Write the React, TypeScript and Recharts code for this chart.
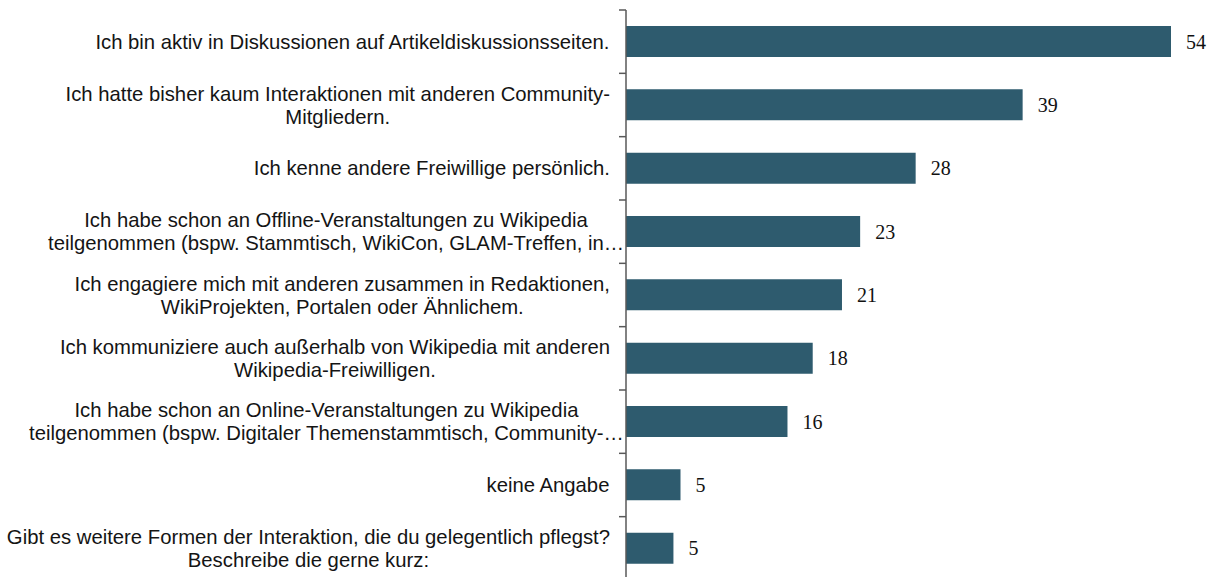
import React from "react";
import { BarChart, Bar, XAxis, YAxis, LabelList } from "recharts";

const categories: string[] = [
  "Ich bin aktiv in Diskussionen auf Artikeldiskussionsseiten.",
  "Ich hatte bisher kaum Interaktionen mit anderen Community-\nMitgliedern.",
  "Ich kenne andere Freiwillige persönlich.",
  "Ich habe schon an Offline-Veranstaltungen zu Wikipedia\nteilgenommen (bspw. Stammtisch, WikiCon, GLAM-Treffen, in…",
  "Ich engagiere mich mit anderen zusammen in Redaktionen,\nWikiProjekten, Portalen oder Ähnlichem.",
  "Ich kommuniziere auch außerhalb von Wikipedia mit anderen\nWikipedia-Freiwilligen.",
  "Ich habe schon an Online-Veranstaltungen zu Wikipedia\nteilgenommen (bspw. Digitaler Themenstammtisch, Community-…",
  "keine Angabe",
  "Gibt es weitere Formen der Interaktion, die du gelegentlich pflegst?\nBeschreibe die gerne kurz:",
];

const values: number[] = [54, 39.3, 28.7, 23.2, 21.4, 18.5, 16.0, 5.4, 4.7];
const valueLabels: string[] = ["54", "39", "28", "23", "21", "18", "16", "5", "5"];

const data = categories.map((name, i) => ({ name, value: values[i], label: valueLabels[i] }));

const CHART_W = 1211;
const CHART_H = 590;
const M_TOP = 10;
const M_BOTTOM = 10;
const AXIS_X = 626;
const BAND = (CHART_H - M_TOP - M_BOTTOM) / categories.length;
const FONT_SIZE = 20.3;
const LABEL_FONT = `${FONT_SIZE}px 'Liberation Sans', Arial, sans-serif`;

let ctx: CanvasRenderingContext2D | null = null;
function measure(s: string): number {
  if (!ctx) {
    const c = document.createElement("canvas");
    ctx = c.getContext("2d");
  }
  if (!ctx) return s.length * 9;
  ctx.font = LABEL_FONT;
  return ctx.measureText(s).width;
}

const CatTick = (props: any) => {
  const { y, payload } = props;
  const lines: string[] = String(payload.value).split("\n");
  const maxW = Math.max(...lines.map(measure));
  const truncated = lines.some((l) => l.endsWith("…"));
  const right = truncated ? 624 : 610;
  const cx = right - maxW / 2;
  const lh = 23;
  const startY = y - ((lines.length - 1) * lh) / 2;
  return (
    <g>
      <line x1={AXIS_X - 7} x2={AXIS_X} y1={y - BAND / 2} y2={y - BAND / 2} stroke="#595959" strokeWidth={1.5} />
      {lines.map((ln, i) => (
        <text
          key={i}
          x={cx}
          y={startY + i * lh}
          textAnchor="middle"
          dominantBaseline="central"
          style={{ fontFamily: "'Liberation Sans', Arial, sans-serif", fontSize: FONT_SIZE }}
          fill="#141414"
        >
          {ln}
        </text>
      ))}
    </g>
  );
};

export default function App() {
  return (
    <div
      style={{
        position: "fixed",
        left: 0,
        top: 0,
        width: CHART_W,
        height: 577,
        overflow: "hidden",
        background: "#fff",
      }}
    >
      <BarChart
        width={CHART_W}
        height={CHART_H}
        data={data}
        layout="vertical"
        margin={{ top: M_TOP, right: 40, bottom: M_BOTTOM, left: 0 }}
        barSize={31}
      >
        <XAxis type="number" domain={[0, 54]} hide />
        <YAxis
          type="category"
          dataKey="name"
          width={AXIS_X}
          interval={0}
          tickLine={false}
          axisLine={{ stroke: "#595959", strokeWidth: 1.5 }}
          tick={<CatTick />}
        />
        <Bar dataKey="value" fill="#2E5B6E" isAnimationActive={false}>
          <LabelList
            dataKey="label"
            position="right"
            offset={15}
            style={{ fontFamily: "'Liberation Serif', 'Times New Roman', serif", fontSize: 20, fill: "#111" }}
          />
        </Bar>
      </BarChart>
    </div>
  );
}
